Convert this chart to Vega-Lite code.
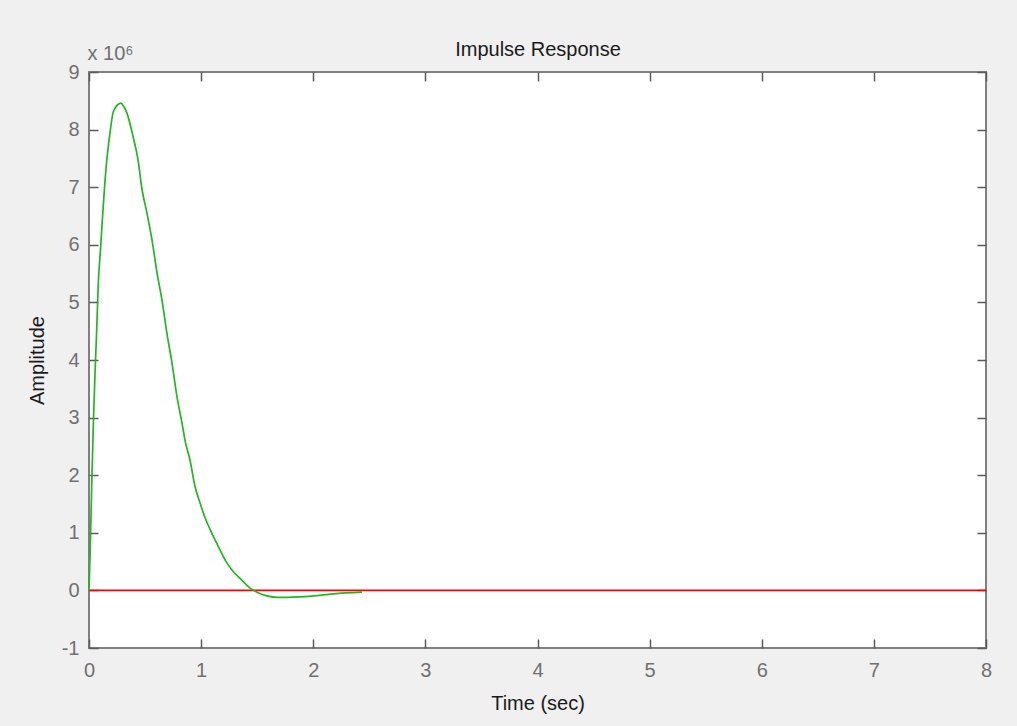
{
  "$schema": "https://vega.github.io/schema/vega-lite/v6.json",
  "width": 897,
  "height": 576,
  "autosize": "none",
  "padding": {"left": 89, "top": 72, "right": 31, "bottom": 78},
  "background": "#f0f0f0",
  "config": {
    "font": "Liberation Sans",
    "view": {"fill": "white", "stroke": "#808080", "strokeWidth": 2},
    "axis": {
      "grid": false,
      "domain": false,
      "tickSize": -9,
      "tickColor": "#5a5a5a",
      "tickWidth": 1.5,
      "labelFlush": false,
      "labelFont": "Liberation Sans",
      "labelFontSize": 20,
      "labelColor": "#707070",
      "titleFont": "Liberation Sans",
      "titleFontSize": 20,
      "titleFontWeight": "normal",
      "titleColor": "#1a1a1a"
    }
  },
  "layer": [
    {
      "data": {"values": [{"t": 0, "v": 0}, {"t": 8, "v": 0}]},
      "mark": {"type": "line", "color": "#ff0000", "strokeWidth": 1.6},
      "encoding": {
        "x": {
          "field": "t", "type": "quantitative",
          "scale": {"domain": [0, 8], "nice": false, "zero": false},
          "axis": {"orient": "top", "labels": false, "values": [0, 1, 2, 3, 4, 5, 6, 7, 8], "title": "Impulse Response", "titlePadding": 12}
        },
        "y": {
          "field": "v", "type": "quantitative",
          "scale": {"domain": [-1, 9], "nice": false, "zero": false},
          "axis": {"orient": "right", "labels": false, "values": [-1, 0, 1, 2, 3, 4, 5, 6, 7, 8, 9], "title": "x 10⁶", "titleAngle": 0, "titleAlign": "left", "titleBaseline": "alphabetic", "titleX": -899, "titleY": -13, "titleColor": "#707070"}
        }
      }
    },
    {
      "data": {"values": [
        {"t": 0, "v": 0},
        {"t": 0.009, "v": 0.58},
        {"t": 0.024, "v": 1.8},
        {"t": 0.038, "v": 2.84},
        {"t": 0.054, "v": 3.78},
        {"t": 0.069, "v": 4.55},
        {"t": 0.083, "v": 5.33},
        {"t": 0.104, "v": 5.96},
        {"t": 0.122, "v": 6.52},
        {"t": 0.152, "v": 7.33},
        {"t": 0.187, "v": 7.94},
        {"t": 0.214, "v": 8.29},
        {"t": 0.25, "v": 8.42},
        {"t": 0.283, "v": 8.46},
        {"t": 0.31, "v": 8.4},
        {"t": 0.336, "v": 8.3},
        {"t": 0.393, "v": 7.88},
        {"t": 0.437, "v": 7.48},
        {"t": 0.473, "v": 6.96},
        {"t": 0.517, "v": 6.55},
        {"t": 0.562, "v": 6.08},
        {"t": 0.607, "v": 5.51},
        {"t": 0.651, "v": 5.04},
        {"t": 0.696, "v": 4.45},
        {"t": 0.74, "v": 3.95},
        {"t": 0.785, "v": 3.36},
        {"t": 0.83, "v": 2.9},
        {"t": 0.856, "v": 2.61},
        {"t": 0.901, "v": 2.26},
        {"t": 0.946, "v": 1.8},
        {"t": 0.99, "v": 1.52},
        {"t": 1.035, "v": 1.26},
        {"t": 1.094, "v": 1.0},
        {"t": 1.154, "v": 0.76},
        {"t": 1.213, "v": 0.53},
        {"t": 1.273, "v": 0.36},
        {"t": 1.362, "v": 0.18},
        {"t": 1.436, "v": 0.04},
        {"t": 1.508, "v": -0.04},
        {"t": 1.597, "v": -0.1},
        {"t": 1.68, "v": -0.12},
        {"t": 1.766, "v": -0.12},
        {"t": 1.989, "v": -0.1},
        {"t": 2.177, "v": -0.06},
        {"t": 2.435, "v": -0.03}
      ]},
      "mark": {"type": "line", "color": "#22b622", "strokeWidth": 1.7, "interpolate": "monotone"},
      "encoding": {
        "x": {
          "field": "t", "type": "quantitative",
          "axis": {"orient": "bottom", "values": [0, 1, 2, 3, 4, 5, 6, 7, 8], "labelPadding": 21, "title": "Time (sec)", "titlePadding": 13}
        },
        "y": {
          "field": "v", "type": "quantitative",
          "axis": {"orient": "left", "values": [-1, 0, 1, 2, 3, 4, 5, 6, 7, 8, 9], "labelPadding": 19, "labelExpr": "replace(datum.label, '−', '-')", "title": "Amplitude", "titlePadding": 14}
        }
      }
    }
  ],
  "resolve": {"axis": {"x": "independent", "y": "independent"}}
}
